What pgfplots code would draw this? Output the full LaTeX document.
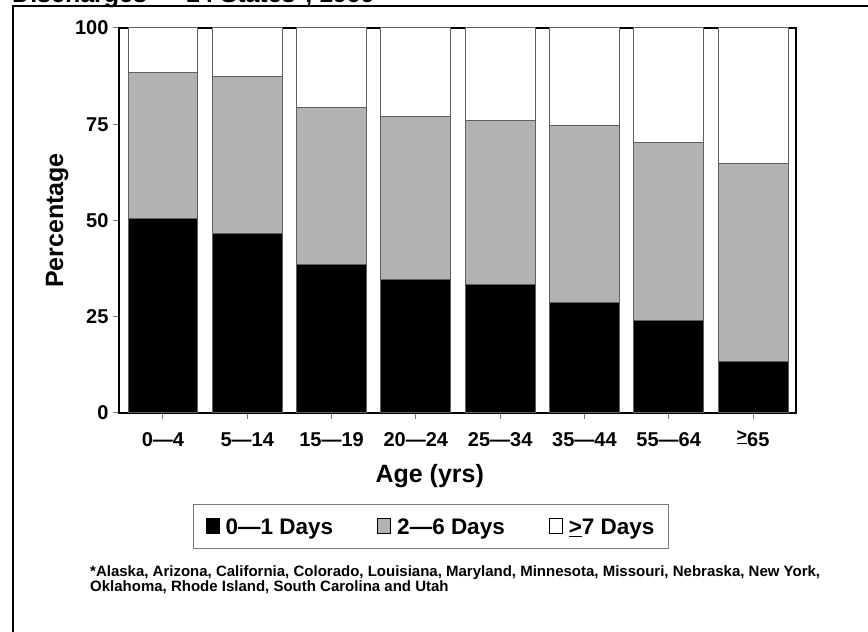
\documentclass[border=0pt]{standalone}
\usepackage{fontspec}
\setmainfont{Liberation Sans}
\usepackage{pgfplots}
\pgfplotsset{compat=1.18}
\definecolor{midgray}{RGB}{178,178,178}
\definecolor{edgegray}{RGB}{95,95,95}
\definecolor{tickgray}{RGB}{120,120,120}

\begin{document}
\begin{tikzpicture}
\path[use as bounding box] (0pt,0pt) rectangle (868pt,632pt);
\begin{scope}
\clip (0pt,0pt) rectangle (868pt,632pt);
\draw[line width=2pt] (13pt,-10pt) -- (13pt,626pt) -- (880pt,626pt);
\node[anchor=base west, font=\bfseries\fontsize{25}{28}\selectfont, inner sep=0pt] at (12pt,629pt) {Discharges --- 14 States*, 1999};
\end{scope}
\begin{axis}[
  at={(119pt,219pt)}, anchor=south west,
  scale only axis, width=677pt, height=385pt,
  ybar stacked, bar width=0.83,
  xmin=-0.522, xmax=7.51, ymin=0, ymax=100,
  xtick={0,1,2,3,4,5,6,7},
  xticklabels={0---4,5---14,15---19,20---24,25---34,35---44,55---64,{\smash{\raisebox{5pt}{\underline{\fontsize{18}{18}\selectfont >}}}65}},
  ytick={0,25,50,75,100},
  xtick pos=bottom, ytick pos=left,
  tick align=outside, major tick length=6pt,
  tick style={tickgray, line width=1pt},
  axis line style={line width=1.5pt},
  /pgf/number format/assume math mode=true,
  ticklabel style={font=\bfseries\fontsize{20}{24}\selectfont},
  xticklabel style={yshift=-10pt},
  yticklabel style={xshift=-1pt},
  ylabel={Percentage},
  ylabel style={at={(axis description cs:-0.0827,0.5)}, anchor=base, rotate=0, font=\bfseries\fontsize{25}{30}\selectfont},
  xlabel={Age (yrs)},
  xlabel style={at={(axis description cs:0.459,-0.1818)}, anchor=base, font=\bfseries\fontsize{25}{30}\selectfont},
  legend columns=3,
  legend style={at={(axis description cs:0.461,-0.236)}, anchor=north, draw=tickgray, line width=1pt,
    font=\bfseries\fontsize{22.5}{26}\selectfont, inner xsep=12pt, inner ysep=10pt,
    /tikz/every odd column/.append style={column sep=4pt},
    /tikz/every even column/.append style={column sep=42pt}},
  legend image code/.code={\draw[#1, draw=black, line width=1pt] (0pt,-7.5pt) rectangle (13pt,7.5pt);},
]
\addplot[fill=black, draw=edgegray, line width=1pt] coordinates {(0,50.4) (1,46.6) (2,38.6) (3,34.8) (4,33.3) (5,28.7) (6,23.9) (7,13.4)};
\addplot[fill=midgray, draw=edgegray, line width=1pt] coordinates {(0,38.0) (1,40.8) (2,40.8) (3,42.2) (4,42.8) (5,45.9) (6,46.4) (7,51.3)};
\addplot[fill=white, draw=edgegray, line width=1pt] coordinates {(0,11.6) (1,12.6) (2,20.6) (3,23.0) (4,23.9) (5,25.4) (6,29.7) (7,35.3)};
\legend{\strut 0---1 Days, \strut 2---6 Days, \strut\smash{\underline{>}}7 Days}
\end{axis}
\node[anchor=base west, inner sep=0pt, font=\bfseries\fontsize{15}{17}\selectfont] at (90pt,55pt) {*Alaska, Arizona, California, Colorado, Louisiana, Maryland, Minnesota, Missouri, Nebraska, New York,};
\node[anchor=base west, inner sep=0pt, font=\bfseries\fontsize{15}{17}\selectfont] at (90pt,40pt) {Oklahoma, Rhode Island, South Carolina and Utah};
\end{tikzpicture}
\end{document}
